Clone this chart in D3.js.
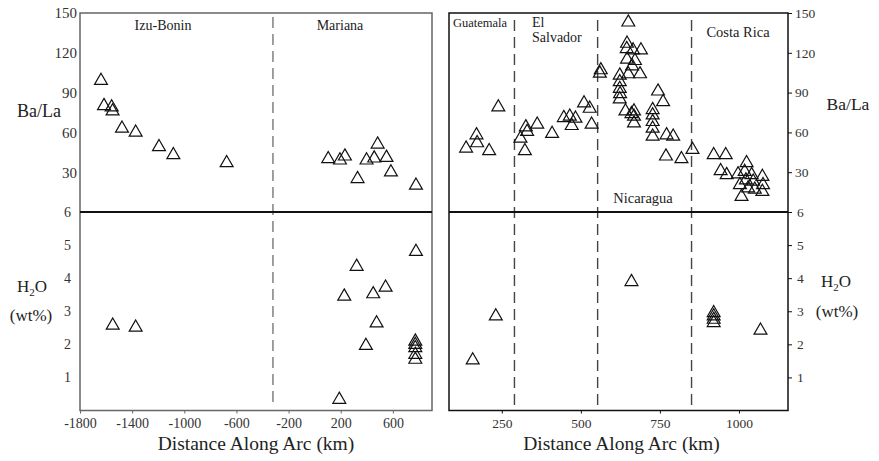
<!DOCTYPE html>
<html>
<head>
<meta charset="utf-8">
<script src="https://cdn.jsdelivr.net/npm/d3@7"></script>
<style>
	body { margin: 0; background: #fff; }
	svg text { font-family: "Liberation Serif", "Times New Roman", serif; }
</style>
</head>
<body>
<svg id="chart" width="879" height="461"></svg>
<script>

// Data

var
	izuBaLa = [[-1639,99],[-1616,80],[-1557,79],[-1550,76],[-1478,63],[-1373,60],[-1194,49],[-1084,43],[-675,37]],
	marianaBaLa = [[104,40],[194,39],[232,42],[329,25],[398,39],[457,40.5],[483,51],[551,41],[585,30],[777,20]],
	leftH2O = [[-1549,2.57],[-1373,2.51],[189,0.33],[227,3.45],[322,4.35],[393,1.96],[449,3.52],[475,2.64],[544,3.72],
		[777,4.8],[772,2.09],[772,1.99],[772,1.89],[772,1.69],[772,1.54]],

	guatemalaBaLa = [[137,48],[170,58],[172,52],[210,46],[239,79]],
	salvadorBaLa = [[309,55.5],[326,64],[330,60.5],[323,46],[362,66],[409,59],[446,71],[465,72],[471,65],[483,70.5],
		[510,82],[528,78],[534,66],[560,104.5],[563,107]],
	nicaraguaBaLa = [[623,103],[623,98],[623,93],[624,89],[623,85],[641,76],[650,143],[646,127],[645,123],[665,122],
		[690,122],[646,115],[671,114],[662,110],[687,104],[650,104],[660,74],[668,72],[668,67],[668,76],[744,91],
		[760,83],[727,77],[727,73],[727,68],[727,63],[727,57],[771,58],[792,57],[769,42],[818,40],[853,47]],
	costaRicaBaLa = [[920,43],[958,43],[942,31],[961,28],[997,28.6],[1003,20.4],[1008,11.5],[1024,37],[1022,24],
		[1029,18],[1040,28],[1045,23],[1050,17],[1074,26.6],[1076,20.4],[1074,15.3],[1018,30.4]],
	rightH2O = [[158,1.52],[231,2.85],[660,3.89],[920,2.95],[920,2.85],[920,2.75],[920,2.65],[1068,2.42]],

	leftXTicks = [-1800,-1400,-1000,-600,-200,200,600],
	rightXTicks = [250,500,750,1000],
	baLaTicks = [30,60,90,120,150],
	h2oTicks = [1,2,3,4,5,6],
	leftBoundaries = [-320],
	rightBoundaries = [290,553,850];

var
	svg = d3.select('#chart'),
	tri = d3.symbol().type(d3.symbolTriangle).size(72),
	top0 = 13, mid = 212, bottom = 410.5,
	serif = '"Liberation Serif", "Times New Roman", serif';

function styleAxis(s, color, size) {
	s.attr('font-family', serif);
	s.select('.domain').remove();
	s.selectAll('line').style('stroke', color);
	s.selectAll('text')
		.style('font-family', serif)
		.style('font-size', size + 'px')
		.style('fill', '#333');
}

function drawPanel(opts) {
	var
		g = svg.append('g'),
		x = d3.scaleLinear().domain(opts.xDomain).range(opts.xRange),
		yTop = d3.scaleLinear().domain([0,150]).range([mid, top0]),
		yBot = d3.scaleLinear().domain([0,6]).range([bottom, mid]),
		left = opts.xRange[0], right = opts.xRange[1],
		isLeft = opts.side === 'left',
		axisX = isLeft ? left : right,
		fmt = function(d) {return String(d);};

	// dashed region boundaries
	g.selectAll('line.bound')
		.data(opts.bounds)
		.enter()
		.append('line')
		.attr('x1', function(d) {return x(d);})
		.attr('x2', function(d) {return x(d);})
		.attr('y1', isLeft ? 17 : 20)
		.attr('y2', isLeft ? 405 : bottom)
		.style('stroke', opts.dashColor)
		.style('stroke-width', 1.4)
		.style('stroke-dasharray', '11,6');

	// frame
	g.append('rect')
		.attr('x', left).attr('y', top0)
		.attr('width', right - left).attr('height', bottom - top0)
		.style('fill', 'none')
		.style('stroke', opts.frameColor)
		.style('stroke-width', 1.5);

	g.append('line')
		.attr('x1', left).attr('x2', right)
		.attr('y1', mid).attr('y2', mid)
		.style('stroke', '#111')
		.style('stroke-width', 2.2);

	// y axes
	[[yTop, baLaTicks, opts.topPad, opts.topFont], [yBot, h2oTicks, opts.botPad, opts.tickFont]].forEach(function(p) {
		var ax = (isLeft ? d3.axisLeft(p[0]) : d3.axisRight(p[0]))
			.tickValues(p[1])
			.tickFormat(fmt)
			.tickSize(isLeft ? 0 : 4)
			.tickPadding(p[2]);
		g.append('g')
			.attr('transform', 'translate(' + axisX + ',0)')
			.call(ax)
			.call(styleAxis, opts.frameColor, p[3]);
	});

	// x axis
	g.append('g')
		.attr('transform', 'translate(0,' + bottom + ')')
		.call(d3.axisBottom(x).tickValues(opts.xTicks).tickSize(3).tickPadding(5).tickFormat(fmt))
		.call(styleAxis, opts.frameColor, opts.tickFont);

	// points
	g.selectAll('path.balas')
		.data(opts.baLa)
		.enter()
		.append('path')
		.attr('d', tri)
		.attr('transform', function(d) {return 'translate(' + x(d[0]) + ',' + yTop(d[1]) + ')';})
		.style('fill', 'none')
		.style('stroke', '#111')
		.style('stroke-width', 1.2);

	g.selectAll('path.h2o')
		.data(opts.h2o)
		.enter()
		.append('path')
		.attr('d', tri)
		.attr('transform', function(d) {return 'translate(' + x(d[0]) + ',' + yBot(d[1]) + ')';})
		.style('fill', 'none')
		.style('stroke', '#111')
		.style('stroke-width', 1.2);

	// axis title
	svg.append('text')
		.attr('x', (left + right) / 2 + opts.titleShift)
		.attr('y', 450)
		.attr('text-anchor', 'middle')
		.style('font-family', serif)
		.style('font-size', '19.5px')
		.style('fill', '#222')
		.text('Distance Along Arc (km)');

	return x;
}

// Left Panel

drawPanel({
	side: 'left',
	xDomain: [-1800, 900], xRange: [80, 432],
	xTicks: leftXTicks, bounds: leftBoundaries,
	baLa: izuBaLa.concat(marianaBaLa), h2o: leftH2O,
	frameColor: '#666', dashColor: '#777', tickFont: 14, topFont: 15, topPad: 3, botPad: 9, titleShift: 0
});

// Right Panel

drawPanel({
	side: 'right',
	xDomain: [83, 1155], xRange: [449, 788],
	xTicks: rightXTicks, bounds: rightBoundaries,
	baLa: guatemalaBaLa.concat(salvadorBaLa, nicaraguaBaLa, costaRicaBaLa), h2o: rightH2O,
	frameColor: '#111', dashColor: '#444', tickFont: 13.5, topFont: 13.5, topPad: 3, botPad: 5, titleShift: 3
});

// Labels

var labels = [
	{t: 'Izu-Bonin', x: 163, y: 30, a: 'middle', s: 14},
	{t: 'Mariana', x: 340, y: 30, a: 'middle', s: 14},
	{t: 'Guatemala', x: 453, y: 27, a: 'start', s: 12.5},
	{t: 'El', x: 532, y: 27, a: 'start', s: 14},
	{t: 'Salvador', x: 532, y: 41.5, a: 'start', s: 14},
	{t: 'Nicaragua', x: 643, y: 203, a: 'middle', s: 14.5},
	{t: 'Costa Rica', x: 738, y: 37, a: 'middle', s: 14.5},
	{t: 'Ba/La', x: 39, y: 117, a: 'middle', s: 18},
	{t: 'Ba/La', x: 848, y: 110, a: 'middle', s: 17.5},
	{t: '(wt%)', x: 31, y: 321, a: 'middle', s: 17},
	{t: '(wt%)', x: 837, y: 317, a: 'middle', s: 17}
];

svg.selectAll('text.lab')
	.data(labels)
	.enter()
	.append('text')
	.attr('x', function(d) {return d.x;})
	.attr('y', function(d) {return d.y;})
	.attr('text-anchor', function(d) {return d.a;})
	.style('font-family', serif)
	.style('font-size', function(d) {return d.s + 'px';})
	.style('fill', '#222')
	.text(function(d) {return d.t;});

[{x: 32, y: 292}, {x: 836, y: 287}].forEach(function(p) {
	var t = svg.append('text')
		.attr('x', p.x).attr('y', p.y)
		.attr('text-anchor', 'middle')
		.style('font-family', serif)
		.style('font-size', '17px')
		.style('fill', '#222');
	t.append('tspan').text('H');
	t.append('tspan').attr('dy', 4).style('font-size', '11px').text('2');
	t.append('tspan').attr('dy', -4).text('O');
});

</script>
</body>
</html>
